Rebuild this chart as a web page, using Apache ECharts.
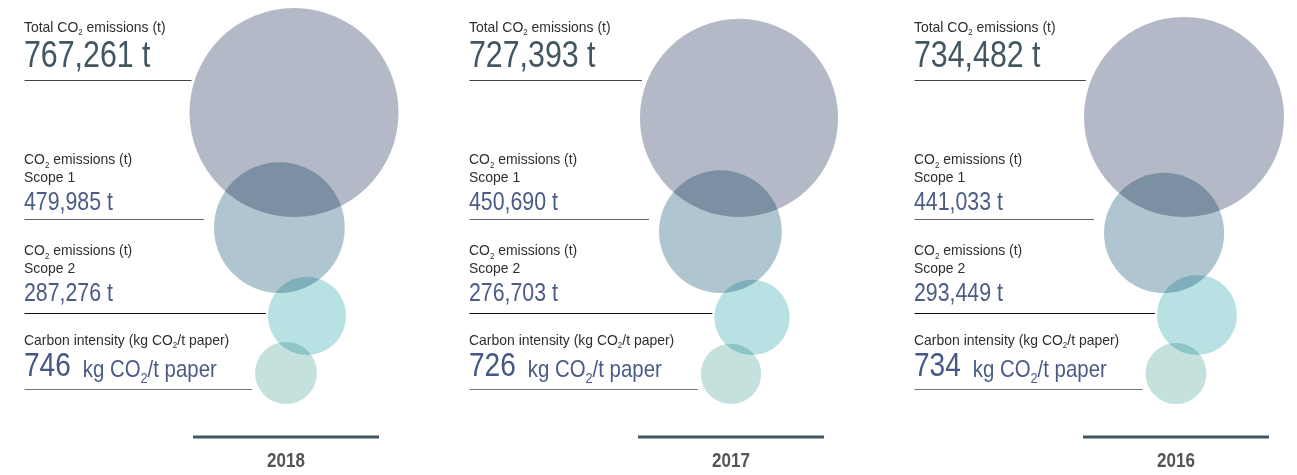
<!DOCTYPE html>
<html>
<head>
<meta charset="utf-8">
<style>
  html, body { margin: 0; padding: 0; background: #fff; }
  #chart { width: 1297px; height: 475px; }
</style>
</head>
<body>
<div id="chart"></div>
<script src="https://cdn.jsdelivr.net/npm/echarts@6/dist/echarts.min.js"></script>
<script>
// data
var years = ['2018', '2017', '2016'];
var totalCO2 = [767261, 727393, 734482];
var scope1CO2 = [479985, 450690, 441033];
var scope2CO2 = [287276, 276703, 293449];
var carbonIntensity = [746, 726, 734];

// layout
var panelX = [24, 469, 914];
// no narrow font installed: squeeze Liberation Sans horizontally instead
var FONT = '"Liberation Sans", Arial, sans-serif';
var TONNE_PX = 0.0002724;   // bubble diameter per tonne
var INTENSITY_PX = 0.0831;  // bubble diameter per kg CO2/t paper

var rows = [
    {values: totalCO2, scale: TONNE_PX, color: '#b3b9c6', bottom: 217, anchorX: 270, align: 'center', lineY: 80.5, lineGap: -2, lineColor: '#444'},
    {values: scope1CO2, scale: TONNE_PX, color: '#afc6d1', bottom: 293, anchorX: 190, align: 'left', lineY: 219.5, lineGap: 10, lineColor: '#666'},
    {values: scope2CO2, scale: TONNE_PX, color: '#b8e1e4', bottom: 355, anchorX: 283, align: 'center', lineY: 313.5, lineGap: 2, lineColor: '#111'},
    {values: carbonIntensity, scale: INTENSITY_PX, color: '#c5e1de', bottom: 404, anchorX: 262, align: 'center', lineY: 389.5, lineGap: 3, lineColor: '#777'}
];

function fmt(n) {
    return n.toLocaleString('en-US');
}

// small labels, the "2" drawn as a subscript
var smallRich = {
    a: {fontFamily: FONT, fontSize: 15, fill: '#2e2e2e', verticalAlign: 'bottom', padding: [0, 0, 2, 0]},
    s: {fontFamily: FONT, fontSize: 8.5, fill: '#2e2e2e', verticalAlign: 'bottom'}
};
var intensityRich = {
    n: {fontFamily: FONT, fontSize: 33, fill: '#465785', verticalAlign: 'bottom', padding: [0, 0, 3.2, 0]},
    u: {fontFamily: FONT, fontSize: 24, fill: '#4a5b86', verticalAlign: 'bottom', padding: [0, 0, 4.6, 14]},
    v: {fontFamily: FONT, fontSize: 24, fill: '#4a5b86', verticalAlign: 'bottom', padding: [0, 0, 4.6, 0]},
    s: {fontFamily: FONT, fontSize: 15, fill: '#4a5b86', verticalAlign: 'bottom'}
};

function richText(x, y, text, rich, sx) {
    return {
        type: 'text', x: x, y: y, scaleX: sx, silent: true,
        style: {text: text, rich: rich, align: 'left', verticalAlign: 'bottom'}
    };
}

function small(x, baseline, text) {
    return richText(x, baseline + 4.3, text, smallRich, 0.93);
}

function valueText(x, baseline, text, fs, color) {
    return {
        type: 'text', x: x, y: baseline + 0.153 * fs, scaleX: 0.82, silent: true,
        style: {text: text, fontFamily: FONT, fontSize: fs, fill: color, align: 'left', verticalAlign: 'bottom'}
    };
}

var graphics = [];
years.forEach(function (year, i) {
    var x0 = panelX[i];
    graphics.push(small(x0, 33, '{a|Total CO}{s|2}{a| emissions (t)}'));
    graphics.push(valueText(x0, 70, fmt(totalCO2[i]) + ' t', 37, '#415661'));

    graphics.push(small(x0, 165.5, '{a|CO}{s|2}{a| emissions (t)}'));
    graphics.push(small(x0, 183, '{a|Scope 1}'));
    graphics.push(valueText(x0, 211.5, fmt(scope1CO2[i]) + ' t', 26, '#4a5b86'));

    graphics.push(small(x0, 256.5, '{a|CO}{s|2}{a| emissions (t)}'));
    graphics.push(small(x0, 274, '{a|Scope 2}'));
    graphics.push(valueText(x0, 302.5, fmt(scope2CO2[i]) + ' t', 26, '#4a5b86'));

    graphics.push(small(x0, 346, '{a|Carbon intensity (kg CO}{s|2}{a|/t paper)}'));
    graphics.push(richText(x0, 378.5 + 8.3,
        '{n|' + carbonIntensity[i] + '}{u|kg CO}{s|2}{v|/t paper}', intensityRich, 0.85));

    // underlines end at the left edge of the matching bubble
    rows.forEach(function (row) {
        var d = row.values[i] * row.scale;
        var left = x0 + row.anchorX - (row.align === 'center' ? d / 2 : 0);
        graphics.push({
            type: 'line', silent: true,
            shape: {x1: x0 + 0.5, y1: row.lineY, x2: left - row.lineGap, y2: row.lineY},
            style: {stroke: row.lineColor, lineWidth: 1}
        });
    });

    // year bar + label
    graphics.push({
        type: 'rect', silent: true,
        shape: {x: x0 + 169, y: 435.5, width: 186, height: 3},
        style: {fill: '#435863'}
    });
    graphics.push({
        type: 'text', x: x0 + 262, y: 468 + 0.153 * 21, scaleX: 0.81, silent: true,
        style: {text: year, fontFamily: FONT, fontSize: 21, fontWeight: 'bold', fill: '#555', align: 'center', verticalAlign: 'bottom'}
    });
});

var series = rows.map(function (row) {
    return {
        type: 'scatter',
        silent: true,
        animation: false,
        blendMode: 'multiply',
        symbol: 'circle',
        symbolOffset: row.align === 'center' ? [0, '-50%'] : ['50%', '-50%'],
        symbolSize: function (v) { return v[2] * row.scale; },
        itemStyle: {color: row.color, opacity: 1},
        emphasis: {disabled: true},
        data: row.values.map(function (v, i) {
            return [panelX[i] + row.anchorX, row.bottom, v];
        })
    };
});

var chart = echarts.init(document.getElementById('chart'), null, {renderer: 'canvas'});
chart.setOption({
    backgroundColor: '#ffffff',
    animation: false,
    grid: {left: 0, right: 0, top: 0, bottom: 0},
    xAxis: {type: 'value', min: 0, max: 1297, show: false},
    yAxis: {type: 'value', min: 0, max: 475, inverse: true, show: false},
    series: series,
    graphic: graphics
});
</script>
</body>
</html>
